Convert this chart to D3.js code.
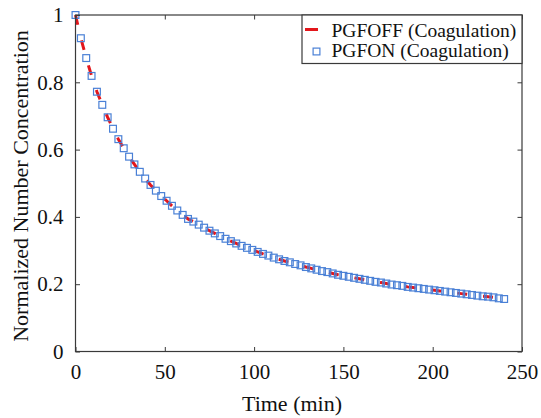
<!DOCTYPE html>
<html>
<head>
<meta charset="utf-8">
<script src="https://cdn.jsdelivr.net/npm/d3@7"></script>
<style>
  html, body { margin: 0; padding: 0; background: #fff; }
  svg { display: block; }
  text { font-family: "Liberation Serif", "Times New Roman", Times, serif; }
</style>
</head>
<body>
<svg id="chart" width="541" height="418"></svg>
<script>
// ---- data ----
const timeMin = [0,3,6,9,12,15,18,21,24,27,30,33,36,39,42,45,48,51,54,57,60,63,66,69,72,75,78,81,84,87,90,93,96,99,102,105,108,111,114,117,120,123,126,129,132,135,138,141,144,147,150,153,156,159,162,165,168,171,174,177,180,183,186,189,192,195,198,201,204,207,210,213,216,219,222,225,228,231,234,237,240];
const pgfonValues = [1.000,0.931,0.872,0.819,0.772,0.733,0.696,0.662,0.631,0.604,0.579,0.556,0.534,0.514,0.495,0.478,0.462,0.448,0.433,0.419,0.406,0.394,0.386,0.377,0.368,0.359,0.351,0.343,0.335,0.328,0.321,0.314,0.308,0.302,0.296,0.290,0.285,0.279,0.274,0.269,0.265,0.260,0.256,0.251,0.247,0.243,0.239,0.236,0.232,0.228,0.225,0.222,0.219,0.216,0.213,0.210,0.207,0.205,0.202,0.199,0.197,0.195,0.192,0.190,0.188,0.186,0.184,0.182,0.180,0.178,0.176,0.174,0.172,0.170,0.168,0.166,0.164,0.163,0.161,0.158,0.156];
const pgfoffValues = [1.000,0.931,0.872,0.819,0.772,0.733,0.696,0.662,0.631,0.604,0.579,0.556,0.534,0.514,0.495,0.478,0.462,0.448,0.433,0.419,0.406,0.394,0.386,0.377,0.368,0.359,0.351,0.343,0.335,0.328,0.321,0.314,0.308,0.302,0.296,0.290,0.285,0.279,0.274,0.269,0.265,0.260,0.256,0.251,0.247,0.243,0.239,0.236,0.232,0.228,0.225,0.222,0.219,0.216,0.213,0.210,0.207,0.205,0.202,0.199,0.197,0.195,0.192,0.190,0.188,0.186,0.184,0.182,0.180,0.178,0.176,0.174,0.172,0.170,0.168,0.166,0.164,0.163,0.161,0.158,0.156];
const xTicks = [0,50,100,150,200,250];
const yTicks = [0,0.2,0.4,0.6,0.8,1];
const yTickLabels = ["0","0.2","0.4","0.6","0.8","1"];
const seriesNames = ["PGFOFF (Coagulation)", "PGFON (Coagulation)"];
const xTitle = "Time (min)";
const yTitle = "Normalized Number Concentration";

// ---- layout ----
const L = 75.5, R = 522, T = 15, B = 351.5;
const svg = d3.select("#chart");
const x = d3.scaleLinear().domain([0, 250]).range([L, R]);
const y = d3.scaleLinear().domain([0, 1]).range([B, T]);
const axisColor = "#3a3a3a";
const textColor = "#111";
const serif = "'Liberation Serif', 'Times New Roman', Times, serif";

// data
const line = d3.line().x((d, i) => x(timeMin[i])).y(d => y(d));
svg.append("path")
  .datum(pgfoffValues)
  .attr("d", line)
  .attr("fill", "none")
  .attr("stroke", "#e3161b")
  .attr("stroke-width", 3)
  .attr("stroke-dasharray", "10,16");

const ms = 6.8;
svg.append("g").selectAll("rect")
  .data(pgfonValues)
  .join("rect")
  .attr("x", (d, i) => x(timeMin[i]) - ms / 2)
  .attr("y", d => y(d) - ms / 2)
  .attr("width", ms)
  .attr("height", ms)
  .attr("fill", "none")
  .attr("stroke", "#4a80d6")
  .attr("stroke-width", 1.2);

// axes (ticks inward on all four sides)
const tl = 4.5;
function styleAxis(g) {
  g.attr("font-family", serif);
  g.select(".domain").remove();
  g.selectAll(".tick line").attr("stroke", axisColor).attr("stroke-width", 1);
}
const fs = 21;
const xb = svg.append("g").attr("transform", `translate(0,${B})`)
  .call(d3.axisBottom(x).tickValues(xTicks).tickSize(-tl).tickPadding(13).tickFormat(d3.format("d")));
styleAxis(xb);
xb.selectAll(".tick text").attr("font-size", fs).attr("fill", textColor);
const xt = svg.append("g").attr("transform", `translate(0,${T})`)
  .call(d3.axisTop(x).tickValues(xTicks).tickSize(-tl).tickFormat(""));
styleAxis(xt);
const yl = svg.append("g").attr("transform", `translate(${L},0)`)
  .call(d3.axisLeft(y).tickValues(yTicks).tickSize(-tl).tickPadding(12).tickFormat((d, i) => yTickLabels[i]));
styleAxis(yl);
yl.selectAll(".tick text").attr("font-size", fs).attr("fill", textColor);
const yr = svg.append("g").attr("transform", `translate(${R},0)`)
  .call(d3.axisRight(y).tickValues(yTicks).tickSize(-tl).tickFormat(""));
styleAxis(yr);

// box
svg.append("rect").attr("x", L).attr("y", T).attr("width", R - L).attr("height", B - T)
  .attr("fill", "none").attr("stroke", axisColor).attr("stroke-width", 1.2);

// titles
svg.append("text").attr("x", 292).attr("y", 411)
  .attr("text-anchor", "middle").attr("font-size", 22).attr("fill", textColor).text(xTitle);
svg.append("text").attr("transform", `translate(28,186) rotate(-90)`)
  .attr("text-anchor", "middle").attr("font-size", 22).attr("fill", textColor).text(yTitle);

// legend
const lg = svg.append("g");
lg.append("rect").attr("x", 302).attr("y", T).attr("width", R - 302).attr("height", 48.5)
  .attr("fill", "#fff").attr("stroke", axisColor).attr("stroke-width", 1.2);
lg.append("line").attr("x1", 305).attr("x2", 318).attr("y1", 29.5).attr("y2", 29.5)
  .attr("stroke", "#e3161b").attr("stroke-width", 3);
lg.append("rect").attr("x", 316 - ms / 2 + 0.5).attr("y", 51.5 - ms / 2).attr("width", ms).attr("height", ms)
  .attr("fill", "none").attr("stroke", "#4a80d6").attr("stroke-width", 1.2);
lg.selectAll("text.leg").data(seriesNames).join("text")
  .attr("class", "leg")
  .attr("x", 331.5).attr("y", (d, i) => 36.5 + i * 20.8)
  .attr("font-size", 19.5).attr("fill", textColor).text(d => d);
</script>
</body>
</html>
